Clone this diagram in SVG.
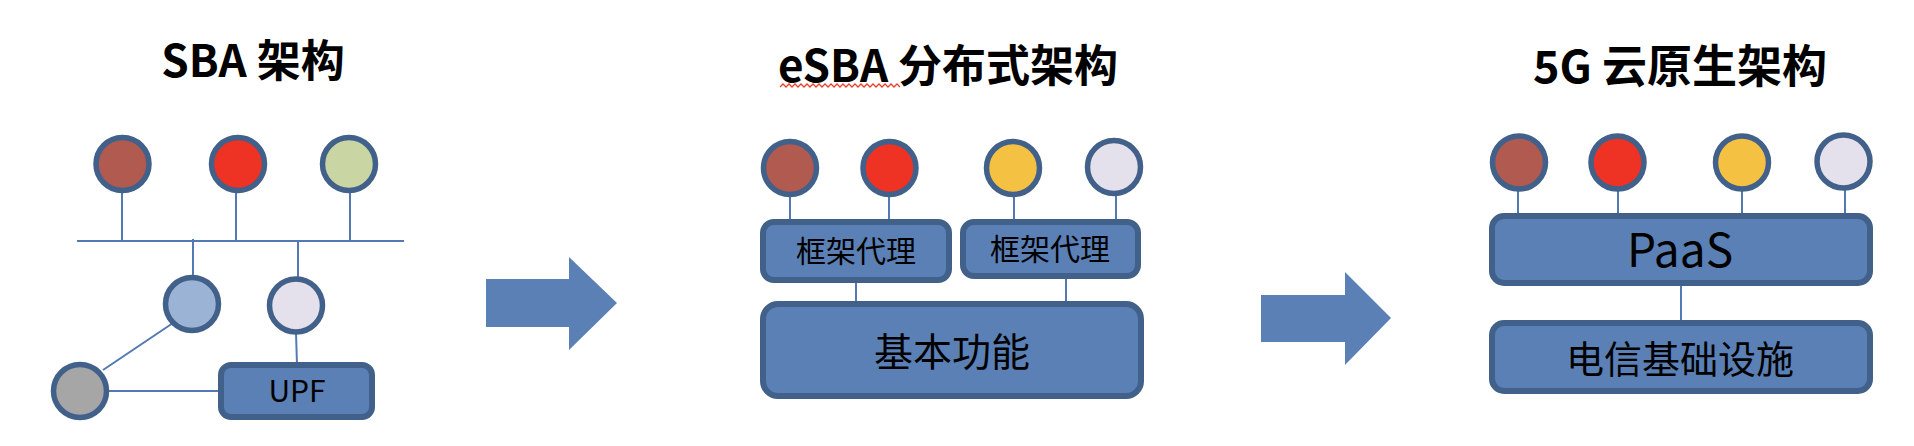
<svg xmlns="http://www.w3.org/2000/svg" width="1914" height="446" viewBox="0 0 1914 446">
<style>
.title{font-family:"Noto Sans CJK SC","Noto Sans",sans-serif;font-weight:bold;fill:#000;text-anchor:middle}
.lbl{font-family:"Noto Sans CJK SC","Noto Sans",sans-serif;fill:#000;text-anchor:middle}
.nd{stroke:#41608A;stroke-width:5.5}
.box{fill:#5A80B6;stroke:#41608A;stroke-width:6}
.ln{stroke:#5279B4;stroke-width:2;fill:none}
.arrow{fill:#5A80B6}
</style>
<rect width="1914" height="446" fill="#fff"/>
<g id="titles">
<text class="title" x="253" y="77" font-size="44">SBA 架构</text>
<text class="title" x="948" y="82" font-size="44">eSBA 分布式架构</text>
<path d="M780 87 l3 -3 l3 3 l3 -3 l3 3 l3 -3 l3 3 l3 -3 l3 3 l3 -3 l3 3 l3 -3 l3 3 l3 -3 l3 3 l3 -3 l3 3 l3 -3 l3 3 l3 -3 l3 3 l3 -3 l3 3 l3 -3 l3 3 l3 -3 l3 3 l3 -3 l3 3 l3 -3 l3 3 l3 -3 l3 3 l3 -3 l3 3 l3 -3 l3 3 l3 -3 l3 3 l3 -3 l3 3" fill="none" stroke="#E8412E" stroke-width="1.3"/>
<text class="title" x="1680" y="83" font-size="45">5G 云原生架构</text>
</g>
<g id="connectors">
<line class="ln" x1="77" y1="241" x2="404" y2="241"/>
<line class="ln" x1="122" y1="192" x2="122" y2="241"/>
<line class="ln" x1="236" y1="192" x2="236" y2="241"/>
<line class="ln" x1="350" y1="192" x2="350" y2="241"/>
<line class="ln" x1="193" y1="239" x2="193" y2="277"/>
<line class="ln" x1="298" y1="241" x2="298" y2="278"/>
<line class="ln" x1="103" y1="370" x2="173" y2="323"/>
<line class="ln" x1="108" y1="391" x2="221" y2="391"/>
<line class="ln" x1="296" y1="333" x2="297" y2="365"/>
<line class="ln" x1="790" y1="196" x2="790" y2="222"/>
<line class="ln" x1="889" y1="196" x2="889" y2="222"/>
<line class="ln" x1="1014" y1="196" x2="1014" y2="222"/>
<line class="ln" x1="1116" y1="195" x2="1116" y2="222"/>
<line class="ln" x1="856" y1="280" x2="856" y2="304"/>
<line class="ln" x1="1066" y1="276" x2="1066" y2="304"/>
<line class="ln" x1="1518" y1="190" x2="1518" y2="216"/>
<line class="ln" x1="1618" y1="190" x2="1618" y2="216"/>
<line class="ln" x1="1742" y1="190" x2="1742" y2="216"/>
<line class="ln" x1="1845" y1="189" x2="1845" y2="216"/>
<line class="ln" x1="1681" y1="283" x2="1681" y2="323"/>
</g>
<g id="sba">
<g id="sba-n1"><circle class="nd" cx="122.5" cy="164" r="26.5" fill="#B05A50"/></g>
<g id="sba-n2"><circle class="nd" cx="238" cy="164" r="26.5" fill="#EE3224"/></g>
<g id="sba-n3"><circle class="nd" cx="349" cy="164" r="26.5" fill="#C9D6A3"/></g>
<g id="sba-n4"><circle class="nd" cx="192" cy="304" r="26.5" fill="#9BB3D4"/></g>
<g id="sba-n5"><circle class="nd" cx="296" cy="305.5" r="26.5" fill="#E4E0EC"/></g>
<g id="sba-n6"><circle class="nd" cx="80" cy="391" r="26.5" fill="#A6A6A6"/></g>
<g id="sba-upf"><rect class="box" x="221" y="365" width="151" height="52" rx="10"/><text class="lbl" x="297" y="402" font-size="30">UPF</text></g>
</g>
<g id="arrow1"><path class="arrow" d="M486 279 H569 V257 L617 303 L569 350 V327 H486 Z"/></g>
<g id="esba">
<g id="esba-n1"><circle class="nd" cx="790" cy="168" r="26.5" fill="#B05A50"/></g>
<g id="esba-n2"><circle class="nd" cx="889.5" cy="168" r="26.5" fill="#EE3224"/></g>
<g id="esba-n3"><circle class="nd" cx="1013" cy="168" r="26.5" fill="#F5C143"/></g>
<g id="esba-n4"><circle class="nd" cx="1114" cy="167" r="26.5" fill="#E4E0EC"/></g>
<g id="esba-proxy1"><rect class="box" x="763" y="222" width="186" height="58" rx="11"/><text class="lbl" x="856" y="262" font-size="30">框架代理</text></g>
<g id="esba-proxy2"><rect class="box" x="963" y="222" width="175" height="54" rx="11"/><text class="lbl" x="1050" y="260" font-size="30">框架代理</text></g>
<g id="esba-basic"><rect class="box" x="763" y="304" width="378" height="92" rx="15"/><text class="lbl" x="952" y="366" font-size="39">基本功能</text></g>
</g>
<g id="arrow2"><path class="arrow" d="M1261 295 H1345 V272 L1391 318 L1345 365 V342 H1261 Z"/></g>
<g id="cloud">
<g id="cloud-n1"><circle class="nd" cx="1519" cy="162.5" r="26.5" fill="#B05A50"/></g>
<g id="cloud-n2"><circle class="nd" cx="1617.5" cy="162.5" r="26.5" fill="#EE3224"/></g>
<g id="cloud-n3"><circle class="nd" cx="1742" cy="162.5" r="26.5" fill="#F5C143"/></g>
<g id="cloud-n4"><circle class="nd" cx="1843.5" cy="161.5" r="26.5" fill="#E4E0EC"/></g>
<g id="cloud-paas"><rect class="box" x="1492" y="216" width="378" height="67" rx="12"/><text class="lbl" x="1680" y="267" font-size="46">PaaS</text></g>
<g id="cloud-infra"><rect class="box" x="1492" y="323" width="378" height="68" rx="12"/><text class="lbl" x="1680" y="373" font-size="38">电信基础设施</text></g>
</g>
</svg>
